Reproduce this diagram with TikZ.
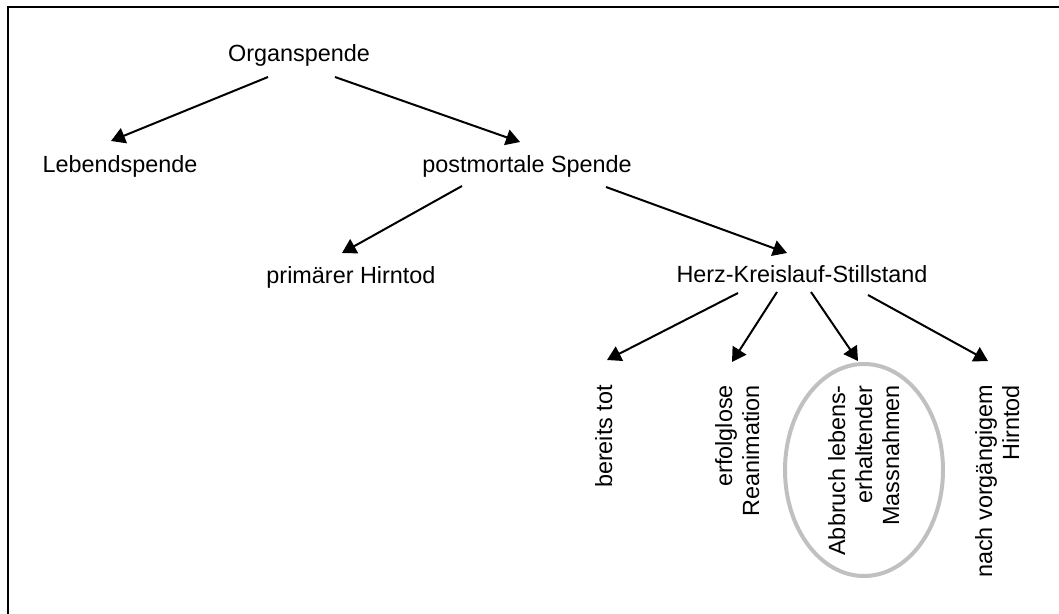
\documentclass[tikz,border=0pt]{standalone}
\usepackage{fontspec}
\setmainfont{Liberation Sans}
\usetikzlibrary{arrows.meta}
\definecolor{ringgray}{HTML}{C0C0C0}
\tikzset{
  lbl/.style={inner sep=0pt, font=\fontsize{23.4}{27}\selectfont, anchor=base},
  vlbl/.style={inner sep=0pt, font=\fontsize{23.4}{27}\selectfont, rotate=90, align=right, anchor=north east},
  arr/.style={line width=2pt, -{Triangle[length=14pt,width=16pt]}},
  frame/.style={line width=2pt}
}
\begin{document}
\begin{tikzpicture}[x=1pt,y=-1pt]
\useasboundingbox (0,0) rectangle (1059,613);
\draw[frame] (1075,7) -- (8,7) -- (8,625);
% nodes
\node[lbl] (org)  at (299,61)  {Organspende};
\node[lbl] (leb)  at (120,172) {Lebendspende};
\node[lbl] (post) at (527,172) {postmortale Spende};
\node[lbl] (prim) at (351,283) {primärer Hirntod};
\node[lbl] (herz) at (802,282) {Herz-Kreislauf-Stillstand};
\node[vlbl] (bt)   at (595,385) {bereits tot};
\node[vlbl] (erf)  at (715,385) {erfolglose\\Reanimation};
\node[vlbl] (abb)  at (828,385) {Abbruch lebens-\\erhaltender\\Massnahmen};
\node[vlbl] (nach) at (975,385) {nach vorgängigem\\Hirntod};
% ring
\draw[ringgray, line width=4pt] (864,470) ellipse [x radius=79pt, y radius=106pt];
% connectors
\draw[arr] ([shift={(-31,16)}]org.base) -- ([shift={(-9,-31)}]leb.base);
\draw[arr] ([shift={(36,16)}]org.base) -- ([shift={(-7,-30)}]post.base);
\draw[arr] ([shift={(-65,14)}]post.base) -- ([shift={(-9,-30)}]prim.base);
\draw[arr] ([shift={(79,15)}]post.base) -- ([shift={(-15,-29)}]herz.base);
\draw[arr] ([shift={(-64,11)}]herz.base) -- ([shift={(12,-25)}]bt.north east);
\draw[arr] ([shift={(-25,10)}]herz.base) -- ([shift={(17,-23)}]erf.north east);
\draw[arr] ([shift={(9,10)}]herz.base) -- ([shift={(30,-24)}]abb.north east);
\draw[arr] ([shift={(66,13)}]herz.base) -- ([shift={(13,-24)}]nach.north east);
\end{tikzpicture}
\end{document}
